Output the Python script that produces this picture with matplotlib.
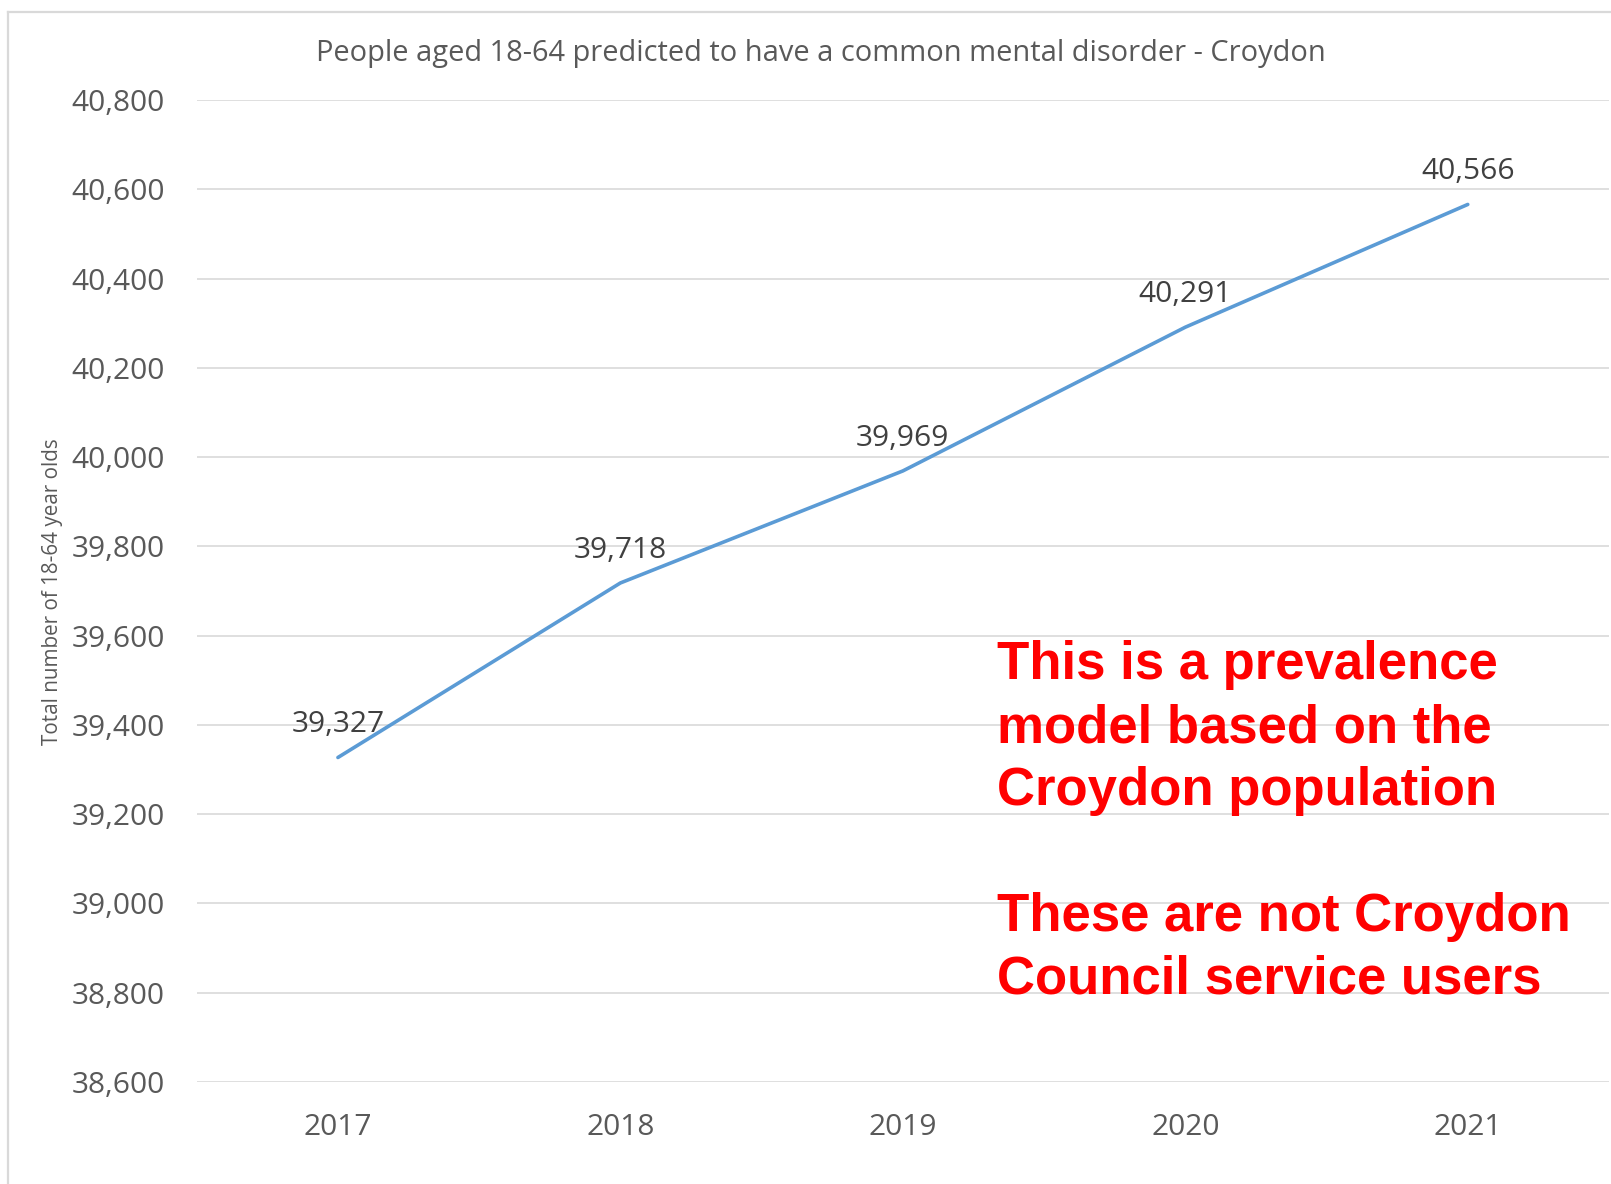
import matplotlib
matplotlib.use("Agg")
import matplotlib.pyplot as plt
from matplotlib.lines import Line2D
from matplotlib.ticker import FuncFormatter

years = ["2017", "2018", "2019", "2020", "2021"]
values = [39327, 39718, 39969, 40291, 40566]
yticks = [38600, 38800, 39000, 39200, 39400, 39600, 39800, 40000, 40200, 40400, 40600, 40800]

title = "People aged 18-64 predicted to have a common mental disorder - Croydon"
ylabel = "Total number of 18-64 year olds"
note = ("This is a prevalence\nmodel based on the\nCroydon population\n\n"
        "These are not Croydon\nCouncil service users")

plt.rcParams['font.family'] = ['Open Sans', 'DejaVu Sans']

W, H = 1611, 1184
fig = plt.figure(figsize=(W / 100, H / 100), dpi=100)
ax = fig.add_axes([196.7 / W, 1 - 1082 / H, (1609 - 196.7) / W, (1082 - 100) / H])

# chart border (left and top visible)
fig.add_artist(Line2D([8 / W, 8 / W], [0, 1 - 12 / H], transform=fig.transFigure,
                      color="#D9D9D9", lw=1.6))
fig.add_artist(Line2D([8 / W, 1], [1 - 12 / H, 1 - 12 / H], transform=fig.transFigure,
                      color="#D9D9D9", lw=1.6))

x = list(range(len(years)))
ax.plot(x, values, color="#5B9BD5", lw=2.6, solid_capstyle="round", zorder=3)
for xi, v in zip(x, values):
    ax.annotate(f"{v:,}", (xi, v), xytext=(0, 23.5), textcoords="offset points",
                ha="center", va="center", fontsize=21.5, color="#404040")

ax.set_xlim(-0.5, len(years) - 0.5)
ax.set_ylim(38600, 40800)
ax.set_yticks(yticks)
ax.yaxis.set_major_formatter(FuncFormatter(lambda v, p: f"{int(v):,}"))
ax.set_xticks(x)
ax.set_xticklabels(years)
ax.grid(axis="y", color="#D9D9D9", lw=1.2)
ax.set_axisbelow(True)
for s in ax.spines.values():
    s.set_visible(False)
ax.tick_params(axis="both", length=0, labelsize=21.5, labelcolor="#595959")
ax.tick_params(axis="y", pad=23)
ax.tick_params(axis="x", pad=22.5)

fig.text(53 / W, 1 - 592 / H, ylabel, rotation=90, ha="center", va="center",
         fontsize=14.9, color="#595959")
fig.text((318 + 1323) / 2 / W, 1 - 54 / H, title, ha="center", va="center",
         fontsize=20.9, color="#595959")

ax.text(0.5667, 0.2641, note, transform=ax.transAxes, ha="left", va="center",
        fontsize=38, fontweight="bold", color="#FF0000", family="Liberation Sans",
        linespacing=1.33)

fig.savefig("out.png", dpi=100)
